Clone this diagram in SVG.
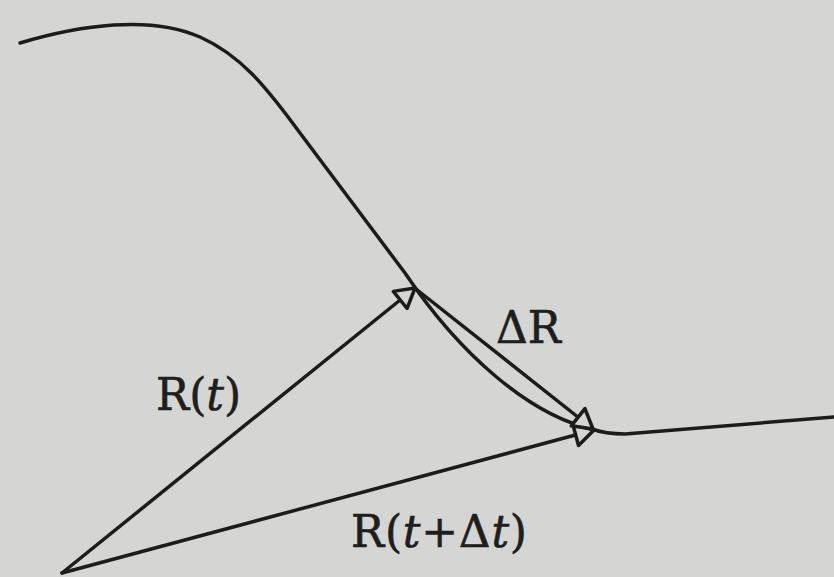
<svg xmlns="http://www.w3.org/2000/svg" width="834" height="577" viewBox="0 0 834 577">
  <style>
    .ln { fill: none; stroke: #1c1c1c; stroke-width: 3.5; stroke-linecap: round; stroke-linejoin: round; }
    .lbl { font-family: "DejaVu Serif", "Liberation Serif", serif; font-size: 44px; fill: #1e1e1e; stroke: #1e1e1e; stroke-width: 0.6; }
    .it { font-style: italic; }
  </style>
  <defs>
    <marker id="open" markerUnits="userSpaceOnUse" markerWidth="40" markerHeight="40" refX="0" refY="0" orient="auto" overflow="visible">
      <path d="M 0 0 L -19 -11 L -19 11 Z" fill="#d5d5d3" stroke="#1c1c1c" stroke-width="3.5" stroke-linejoin="round"/>
    </marker>
  </defs>
  <rect x="0" y="0" width="834" height="577" fill="#d5d5d3"/>

  <g id="trajectory">
    <path class="ln" d="M 20 43 C 80 25, 150 15, 200 37 C 240 55, 265 85, 300 133 L 405 273 C 460 355, 530 415, 592 429 Q 605 434 625 434 L 834 417"/>
  </g>

  <g id="connectors">
    <path id="R_t" class="ln" d="M 62 573 L 415 288" marker-end="url(#open)"/>
    <path id="R_t_dt" class="ln" d="M 62 573 L 594 430" marker-end="url(#open)"/>
    <path id="dR" class="ln" d="M 416 289 L 593 429" marker-end="url(#open)"/>
  </g>

  <g id="label-Rt">
    <text class="lbl" x="156" y="410">R(<tspan class="it">t</tspan>)</text>
  </g>
  <g id="label-dR">
    <text class="lbl" x="496" y="343">ΔR</text>
  </g>
  <g id="label-Rtdt">
    <text class="lbl" x="351" y="547" textLength="176" lengthAdjust="spacing">R(<tspan class="it">t</tspan>+Δ<tspan class="it">t</tspan>)</text>
  </g>
</svg>
